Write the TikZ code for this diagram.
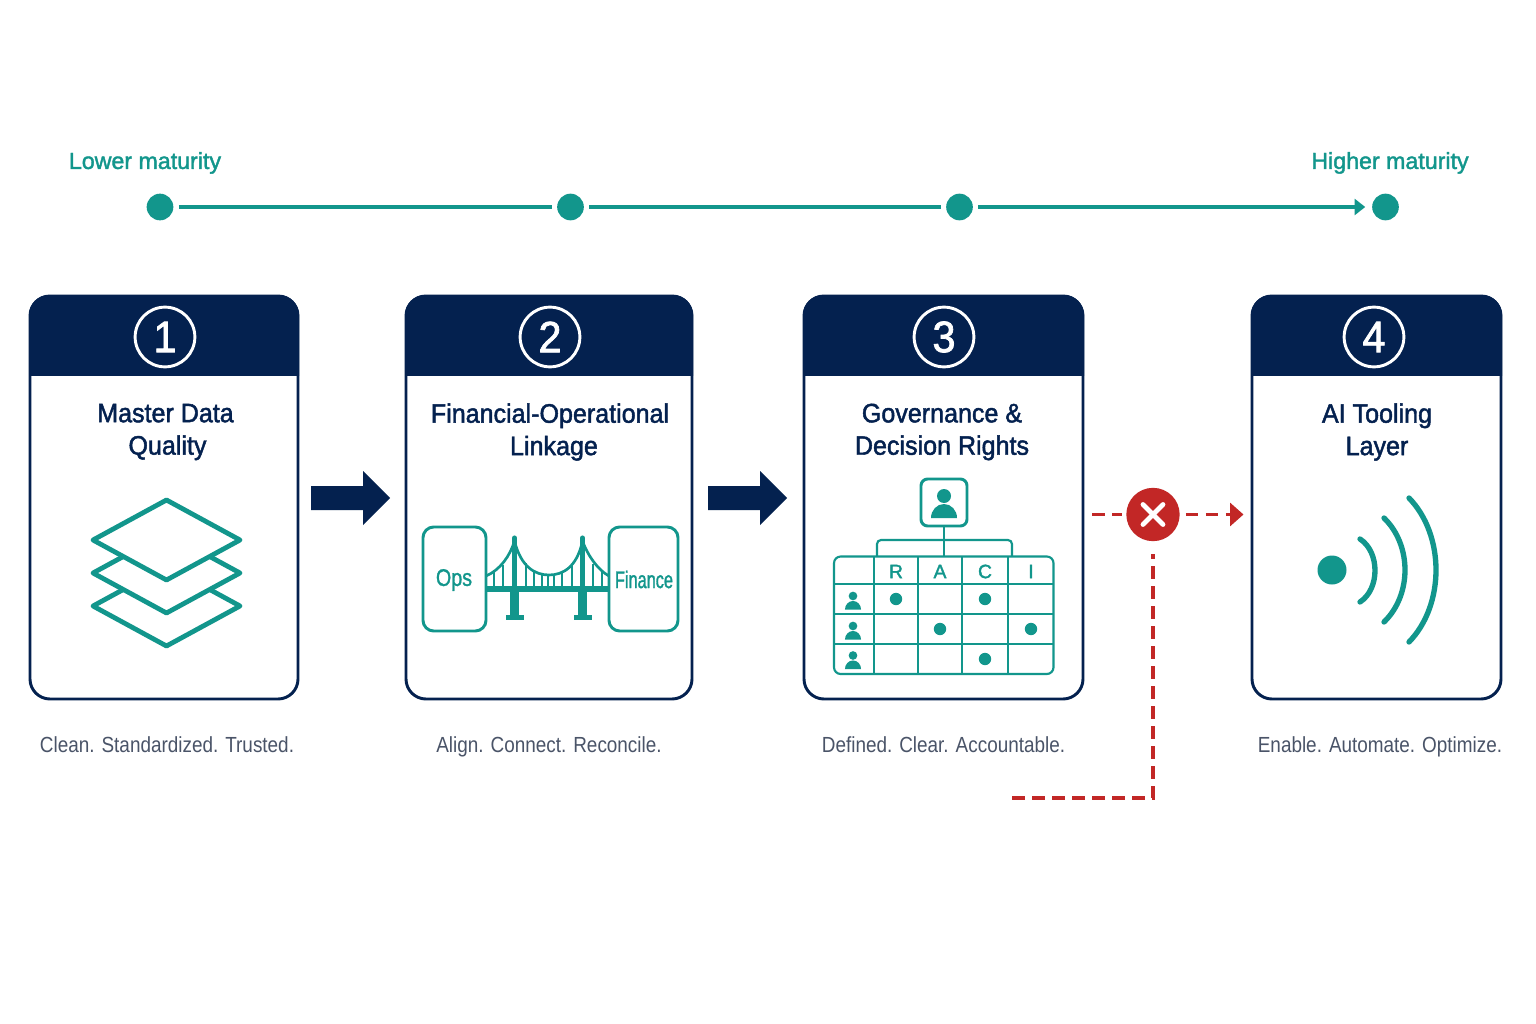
\documentclass[tikz,border=0pt]{standalone}
\usepackage{fontspec}
\setmainfont{Liberation Sans}
\newfontfamily\titlefont[FakeStretch=0.94,FakeBold=1.7]{Liberation Sans}
\newfontfamily\scalefont[FakeBold=1.7]{Liberation Sans}
\newfontfamily\tagfont[FakeStretch=0.865]{Liberation Sans}
\newfontfamily\opsfont[FakeStretch=0.82,FakeBold=1.2]{Liberation Sans}
\newfontfamily\finfont[FakeStretch=0.68,FakeBold=1.2]{Liberation Sans}
\usetikzlibrary{arrows.meta,calc}
\definecolor{navy}{HTML}{04214F}
\definecolor{teal1}{HTML}{12968C}
\definecolor{alert}{HTML}{C22726}
\definecolor{slate}{HTML}{4A5468}
\tikzset{
  x=0.75pt,y=-0.75pt,
  card/.style={draw=navy,line width=2.2pt,rounded corners=15pt,fill=white},
  head/.style={fill=navy,rounded corners=15pt},
  badge/.style={circle,draw=white,line width=2.2pt,minimum size=44.8pt,inner sep=0pt,text=white,font=\fontsize{33}{33}\titlefont},
  cardtitle/.style={text=navy,align=center,font=\fontsize{20}{24.3}\titlefont},
  tagline/.style={text=slate,text height=12pt,text depth=3.5pt,inner ysep=0pt,font=\fontsize{16.4}{18}\tagfont},
  scaletext/.style={text=teal1,text height=12.5pt,text depth=3.6pt,inner ysep=0pt,font=\fontsize{17.4}{20}\scalefont},
  scaledot/.style={circle,fill=teal1,minimum size=20pt,inner sep=0pt},
  scaleline/.style={draw=teal1,line width=2.4pt},
  stepper/.style={fill=navy},
  icon/.style={draw=teal1,line width=2.2pt,line join=round},
  tableline/.style={draw=teal1,line width=1.6pt},
  wave/.style={draw=teal1,line width=4pt,line cap=round},
  redline/.style={draw=alert,line width=2.7pt,dash pattern=on 9.4pt off 5.6pt},
}
\newcommand{\personicon}[3]{% x, y (head centre), scale
  \fill[teal1] (#1,#2) circle ({#3*7});
  \fill[teal1] ({#1-#3*13},{#2+#3*22}) arc (180:360:{#3*13} and {#3*14}) -- cycle;
}
\newcommand{\stackleaf}[1]{% diamond centred on y
  \draw[icon,fill=white,line width=3.6pt] (166.5,{#1-40}) -- (240,#1) -- (166.5,{#1+40}) -- (93,#1) -- cycle;
}
\begin{document}
\begin{tikzpicture}
  \useasboundingbox (0,0) rectangle (1536,1024);
  \fill[white] (0,0) rectangle (1536,1024);
  % scale on top
  \node[scaletext] (lowtext) at (145,163) {Lower maturity};
  \node[scaletext] (hightext) at (1390,163) {Higher maturity};
  \node[scaledot] (d1) at (160,207) {};
  \node[scaledot] (d2) at (570.5,207) {};
  \node[scaledot] (d3) at (959.5,207) {};
  \node[scaledot] (d4) at (1385.5,207) {};
  \draw[scaleline,shorten <=4pt,shorten >=4pt] (d1.east) -- (d2.west);
  \draw[scaleline,shorten <=4pt,shorten >=4pt] (d2.east) -- (d3.west);
  \draw[scaleline,shorten <=4pt,shorten >=5pt,-{Triangle[length=8pt,width=12pt]}] (d3.east) -- (d4.west);
  % cards
  \foreach \l/\r/\n/\b in {30/298/1/165,406/692/2/550,804/1083/3/944,1252/1501/4/1374}{
    \draw[card] (\l,296) rectangle (\r,699);
    \begin{scope}
      \clip (\l-2,293) rectangle (\r+2,375);
      \fill[head] (\l-1,295) rectangle (\r+1,420);
    \end{scope}
    \node[badge] (badge\n) at (\b,337) {\n};
  }
  \node[cardtitle] (title1) at (165.5,432) {Master Data\\\hspace{3pt}Quality};
  \node[cardtitle] (title2) at (550,432) {Financial-Operational\\\hspace{6pt}Linkage};
  \node[cardtitle] (title3) at (942,432) {Governance \&\\Decision Rights};
  \node[cardtitle] (title4) at (1377,432) {AI Tooling\\Layer};
  \node[tagline] (tag1) at (167,747) {Clean. Standardized. Trusted.};
  \node[tagline] (tag2) at (549,747) {Align. Connect. Reconcile.};
  \node[tagline] (tag3) at (943.5,747) {Defined. Clear. Accountable.};
  \node[tagline] (tag4) at (1380,747) {Enable. Automate. Optimize.};
  % arrows between cards
  \foreach \a in {311,708}{
    \fill[stepper] (\a,486) -- (\a+52,486) -- (\a+52,471) -- (\a+79,498) -- (\a+52,525) -- (\a+52,510) -- (\a,510) -- cycle;
  }
  % layers
  \stackleaf{606}
  \stackleaf{573}
  \stackleaf{540}
  % bridge
  \draw[icon,rounded corners=8pt] (423,527) rectangle (486,631);
  \draw[icon,rounded corners=8pt] (609,527) rectangle (678,631);
  \node[text=teal1,font=\fontsize{18}{20}\opsfont] (ops) at (454,580) {Ops};
  \node[text=teal1,font=\fontsize{18}{20}\finfont] (fin) at (644,579.5) {Finance};
  \foreach \t in {514.5,582.5}{
    \draw[teal1,line width=3.8pt,line cap=round] (\t,538) -- (\t,590);
    \fill[teal1] (\t-4.5,592) rectangle (\t+4.5,616);
    \fill[teal1] (\t-9,615) rectangle (\t+9,619.5);
  }
  \fill[teal1] (486,586) rectangle (609,591.5);
  \draw[teal1,line width=2pt] (486,576) .. controls (500,570) and (510,556) .. (514.5,541);
  \draw[teal1,line width=2pt] (514.5,541) .. controls (521,567) and (535,575) .. (549,575) .. controls (563,575) and (577,567) .. (582.5,541);
  \draw[teal1,line width=2pt] (582.5,541) .. controls (588,556) and (598,570) .. (609,576);
  \foreach \h/\e in {494/572,503/565,526/563,534/570,542/574,548/575,554/575,562/572,572/564,593/564,602/571}{
    \draw[teal1,line width=1.2pt] (\h,\e) -- (\h,587);
  }
  % raci table
  \draw[icon,rounded corners=5pt] (921,479) rectangle (967,526);
  \personicon{944}{496}{1}
  \draw[tableline,rounded corners=3pt] (877,556.5) |- (1012,540) -- (1012,556.5);
  \draw[tableline] (944,526) -- (944,556.5);
  \draw[tableline,rounded corners=5pt] (834,556.5) rectangle (1053.5,674);
  \foreach \cx in {874,918,962,1008}{
    \draw[tableline] (\cx,556.5) -- (\cx,674);
  }
  \foreach \cy in {584,614,644}{
    \draw[tableline] (834,\cy) -- (1053.5,\cy);
  }
  \foreach \c/\cx in {R/896,A/940,C/985,I/1031}{
    \node[text=teal1,font=\fontsize{14.5}{16}\scalefont] (raci\c) at (\cx,571.5) {\c};
  }
  \personicon{853}{596}{0.62}
  \personicon{853}{626}{0.62}
  \personicon{853}{655.5}{0.62}
  \foreach \cx/\cy in {896/599,985/599,940/629,1031/629,985/659}{
    \fill[teal1] (\cx,\cy) circle (6.2);
  }
  % blocked link
  \node[circle,fill=alert,minimum size=40pt,inner sep=0pt] (stop) at (1153,514.5) {};
  \draw[white,line width=3.6pt,line cap=round] (1143,504.5) -- (1163,524.5);
  \draw[white,line width=3.6pt,line cap=round] (1163,504.5) -- (1143,524.5);
  \coordinate (gapin) at (1092,514.5);
  \coordinate (gapout) at (1243.5,514.5);
  \coordinate (elbow) at (1153,798);
  \coordinate (tail) at (1012,798);
  \draw[redline,shorten >=3pt] (gapin) -- (stop.west);
  \draw[redline,shorten <=4.5pt,-{Triangle[length=10pt,width=17pt]}] (stop.east) -- (gapout);
  \draw[redline,dash phase=6pt,shorten <=9.75pt] (stop.south) -- (elbow) -- (tail);
  % wireless
  \fill[teal1] (1332,570) circle (14.5);
  \draw[wave] (1360,539) .. controls (1380,552) and (1380,589) .. (1360,602);
  \draw[wave] (1384,518) .. controls (1412,545) and (1412,595) .. (1384,622);
  \draw[wave] (1409,498) .. controls (1445,535) and (1445,605) .. (1409,642);
\end{tikzpicture}
\end{document}
